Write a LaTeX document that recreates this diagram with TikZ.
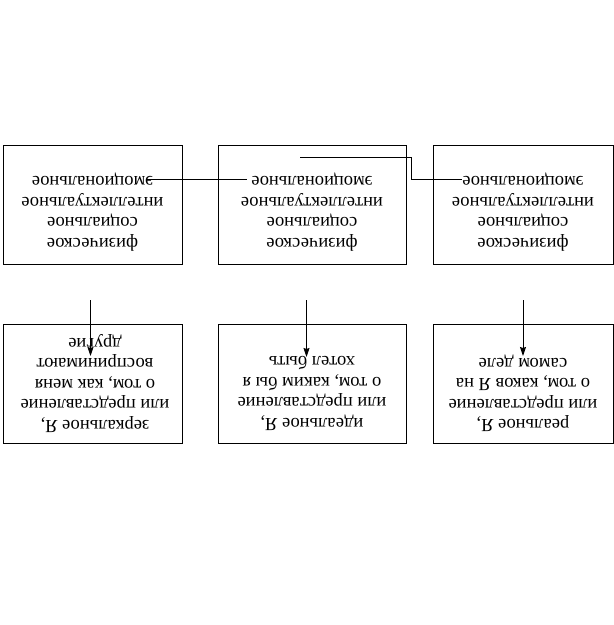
\documentclass[tikz,border=0pt]{standalone}
\usepackage{fontspec}
\setmainfont{Liberation Serif}
\usetikzlibrary{arrows.meta,positioning}

\begin{document}
\begin{tikzpicture}[x=1pt,y=-1pt,line width=1pt,>={Stealth[length=9pt,width=6pt,inset=1pt]},
	boxnode/.style={rectangle,draw,minimum width=179pt,minimum height=119pt,inner sep=0pt},
	textnode/.style={align=center,rotate=180,inner sep=0pt,font=\fontsize{18.5}{20.5}\selectfont}]
	\useasboundingbox (0,0) rectangle (614,625);

	% upper row (picture is turned upside down)
	\node [boxnode] (selfA) at (92.5, 204.5) {};
	\node [boxnode, minimum width=188pt] (selfB) at (312, 204.5) {};
	\node [boxnode, minimum width=180pt] (selfC) at (523, 204.5) {};
	\node [textnode] (selfAt) at (92.5, 212) {физическое\\социальное\\интеллектуальное\\эмоциональное};
	\node [textnode] (selfBt) at (312, 212) {физическое\\социальное\\интеллектуальное\\эмоциональное};
	\node [textnode] (selfCt) at (523, 212) {физическое\\социальное\\интеллектуальное\\эмоциональное};

	% lower row
	\node [boxnode] (mirror) at (92.5, 383.5) {};
	\node [boxnode, minimum width=188pt] (ideal) at (312, 383.5) {};
	\node [boxnode, minimum width=180pt] (real) at (523, 383.5) {};
	\node [textnode] (mirrort) at (95, 383.5) {зеркальное Я,\\или представление\\о том, как меня\\воспринимают\\другие};
	\node [textnode] (idealt) at (312, 393.5) {идеальное Я,\\или представление\\о том, каким бы я\\хотел быть};
	\node [textnode] (realt) at (523, 393.5) {реальное Я,\\или представление\\о том, каков Я на\\самом деле};

	% connecting lines
	\coordinate (l1a) at (147, 179);
	\coordinate (l1b) at (247, 179);
	\coordinate (l2a) at (300, 157);
	\coordinate (l2b) at (411, 157);
	\coordinate (l2c) at (411, 179);
	\coordinate (l2d) at (462, 179);
	\draw (l1a) -- (l1b);
	\draw (l2a) -- (l2b) -- (l2c) -- (l2d);

	% arrows
	\coordinate (m0) at (90.5, 300);
	\coordinate (m1) at (90.5, 356);
	\coordinate (i0) at (306.5, 300);
	\coordinate (i1) at (306.5, 357);
	\coordinate (r0) at (523, 300);
	\coordinate (r1) at (523, 356);
	\draw[->] (m0) -- (m1);
	\draw[->] (i0) -- (i1);
	\draw[->] (r0) -- (r1);
\end{tikzpicture}
\end{document}
